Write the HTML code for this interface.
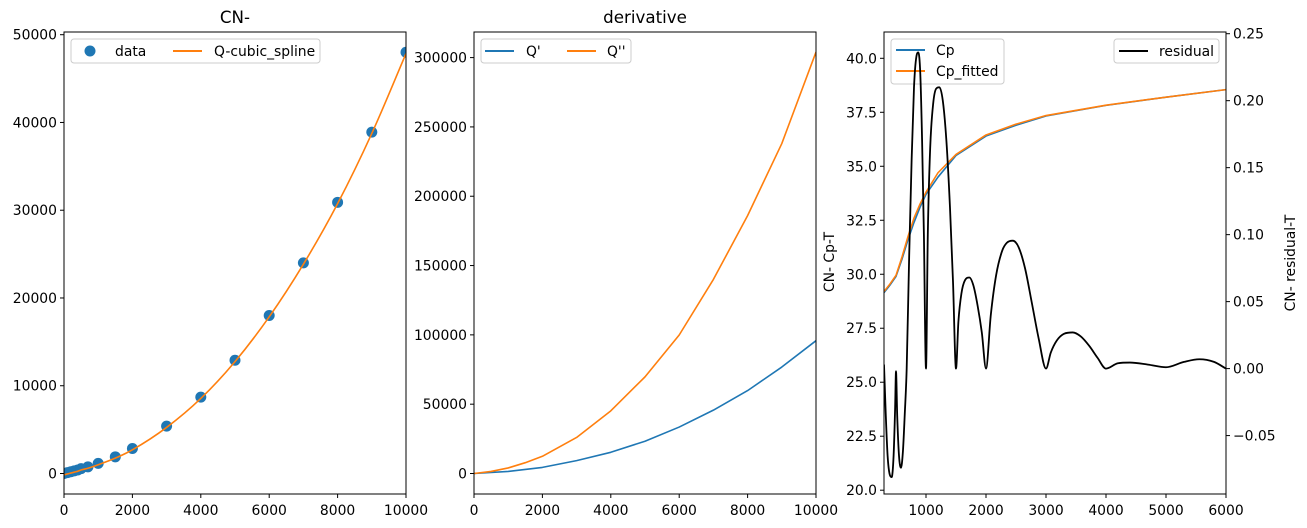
<!DOCTYPE html>
<html><head><meta charset="utf-8"><style>
body{margin:0;background:#fff;}
svg{display:block;font-family:"DejaVu Sans","Liberation Sans",sans-serif;}
</style></head><body>
<svg id="fig" width="1307" height="528" viewBox="0 0 1307 528" xmlns="http://www.w3.org/2000/svg"></svg>
<script>
// Panel 1 data
const dataT = [0,100,200,300,400,500,700,1000,1500,2000,3000,4000,5000,6000,7000,8000,9000,10000];
const dataQ = [0,100,200,300,400,550,750,1150,1900,2850,5400,8700,12900,18000,24000,30900,38900,48000];
// Panel 2 data
const derivT = [0,1000,2000,3000,4000,5000,6000,7000,8000,9000,10000];
const qPrime = [0,1500,4400,9300,15300,23300,33500,45700,59800,76800,95800];
const q2T = [0,500,1000,1500,2000,3000,4000,5000,6000,7000,8000,9000,10000];
const qDouble = [0,1500,4000,7800,12400,26000,45200,69700,99900,140000,186000,238000,304000];
// Panel 3 data
const cpT = [300,400,500,600,700,800,900,1000,1200,1500,2000,2500,3000,4000,5000,6000];
const cpVals = [29.15,29.5,29.9,30.7,31.6,32.4,33.1,33.7,34.5,35.5,36.4,36.9,37.33,37.82,38.2,38.55];
const cpFit = [29.2,29.55,29.95,30.8,31.75,32.6,33.25,33.8,34.7,35.55,36.45,36.95,37.35,37.83,38.2,38.55];
const resT = [300,330,360,395,428,460,485,500,520,550,583,615,645,678,720,760,800,840,872,905,935,965,1000,1030,1070,1120,1170,1222,1280,1340,1400,1450,1500,1540,1590,1650,1722,1790,1860,1930,2000,2080,2170,2270,2350,2444,2540,2650,2760,2880,3000,3080,3180,3300,3444,3580,3720,3860,4000,4200,4400,4700,5000,5300,5556,5800,6000];
const resV = [0.003,-0.035,-0.065,-0.079,-0.081,-0.065,-0.03,-0.002,-0.035,-0.065,-0.074,-0.062,-0.035,0.0,0.085,0.155,0.21,0.233,0.236,0.22,0.17,0.1,0,0.1,0.165,0.198,0.209,0.21,0.2,0.17,0.12,0.065,0,0.035,0.056,0.066,0.068,0.062,0.047,0.027,0,0.04,0.07,0.088,0.094,0.0955,0.091,0.075,0.05,0.022,0,0.012,0.021,0.026,0.027,0.024,0.017,0.008,0.0,0.004,0.0045,0.003,0.001,0.005,0.007,0.005,0];
const ticks1Y=[0,10000,20000,30000,40000,50000];
const ticks1X=[0,2000,4000,6000,8000,10000];
const ticks2Y=[0,50000,100000,150000,200000,250000,300000];
const ticks3X=[1000,2000,3000,4000,5000,6000];
const ticks3Y=[20,22.5,25,27.5,30,32.5,35,37.5,40];
const ticks3R=[-0.05,0,0.05,0.1,0.15,0.2,0.25];

const NS="http://www.w3.org/2000/svg";
const svg=document.getElementById('fig');
function mk(tag,attrs,parent){const e=document.createElementNS(NS,tag);for(const k in attrs)e.setAttribute(k,attrs[k]);(parent||svg).appendChild(e);return e;}
function lin(d0,d1,r0,r1){return v=>r0+(v-d0)/(d1-d0)*(r1-r0);}
const TOP=32,BOT=494,FS=13.9;
const BLUE='#1f77b4',ORANGE='#ff7f0e';

function frame(l,r,name){const e=mk('rect',{x:l,y:TOP,width:r-l,height:BOT-TOP,fill:'none',stroke:'#000','stroke-width':1});}
function xticks(ticks,sx,fmt){const g=mk('g',{});
 ticks.forEach(t=>{const x=sx(t);mk('line',{x1:x,x2:x,y1:BOT,y2:BOT+4,stroke:'#000'},g);const tx=mk('text',{x:x,y:BOT+21,'text-anchor':'middle','font-size':FS},g);tx.textContent=fmt?fmt(t):t;});}
function yticks(ticks,sy,x,fmt,right){const g=mk('g',{});
 ticks.forEach(t=>{const y=sy(t);mk('line',{x1:x,x2:right?x+4:x-4,y1:y,y2:y,stroke:'#000'},g);const tx=mk('text',{x:right?x+7:x-7,y:y+5,'text-anchor':right?'start':'end','font-size':FS},g);tx.textContent=fmt?fmt(t):t;});}
function pts(xs,ys,sx,sy){return xs.map((v,i)=>[sx(v),sy(ys[i])]);}
function linearD(p){return p.map((q,i)=>(i?'L':'M')+q[0].toFixed(2)+','+q[1].toFixed(2)).join('');}
function monoD(p){const n=p.length;const d=[],m=[];for(let i=0;i<n-1;i++)d.push((p[i+1][1]-p[i][1])/(p[i+1][0]-p[i][0]));
 m[0]=d[0];m[n-1]=d[n-2];for(let i=1;i<n-1;i++){m[i]=(d[i-1]*d[i]<=0)?0:(d[i-1]+d[i])/2;}
 // cusp handling: where value sign flips at a zero with sharp change, keep slopes
 for(let i=0;i<n-1;i++){if(d[i]===0){m[i]=m[i+1]=0;continue;}const a=m[i]/d[i],b=m[i+1]/d[i],s=a*a+b*b;if(s>9){const t=3/Math.sqrt(s);m[i]=t*a*d[i];m[i+1]=t*b*d[i];}}
 let s='M'+p[0][0].toFixed(2)+','+p[0][1].toFixed(2);
 for(let i=0;i<n-1;i++){const h=(p[i+1][0]-p[i][0])/3;s+='C'+(p[i][0]+h).toFixed(2)+','+(p[i][1]+m[i]*h).toFixed(2)+' '+(p[i+1][0]-h).toFixed(2)+','+(p[i+1][1]-m[i+1]*h).toFixed(2)+' '+p[i+1][0].toFixed(2)+','+p[i+1][1].toFixed(2);}
 return s;}
function path(xs,ys,sx,sy,color,name,w,smooth){const p=pts(xs,ys,sx,sy);const e=mk('path',{d:smooth?monoD(p):linearD(p),fill:'none',stroke:color,'stroke-width':w||1.6,'stroke-linejoin':'round'});return e;}
function clip(id,l,r){const c=mk('clipPath',{id:id});mk('rect',{x:l,y:TOP,width:r-l,height:BOT-TOP},c);}
function title(x,t,name){const e=mk('text',{x:x,y:23,'text-anchor':'middle','font-size':16.7});e.textContent=t;}
function legendBox(x,y,w,h,name){const g=mk('g',{});mk('rect',{x:x,y:y,width:w,height:h,rx:3,fill:'#fff','fill-opacity':0.8,stroke:'#ccc'},g);return g;}
function legLine(g,x,y,color){mk('line',{x1:x,x2:x+29,y1:y,y2:y,stroke:color,'stroke-width':2},g);}
function legText(g,x,y,t){const e=mk('text',{x:x,y:y+5,'font-size':FS},g);e.textContent=t;}

// ---- Panel 1
{const L=64,R=406;const sx=lin(0,10000,L,R),sy=lin(0,50000,473.5,34.7);
 clip('c1',L,R);
 const g=mk('g',{'clip-path':'url(#c1)'});
 dataT.forEach((t,i)=>{const c=mk('circle',{cx:sx(t),cy:sy(dataQ[i]),r:5.5,fill:BLUE},g);});
 const p=path(dataT,dataQ.map(v=>v-150),sx,sy,ORANGE,'cubic-spline-line',1.6,true);p.setAttribute('clip-path','url(#c1)');
 frame(L,R,'panel1-frame');xticks(ticks1X,sx);yticks(ticks1Y,sy,L);title(235,'CN-','panel1-title');
 const lg=legendBox(71,39,249,24,'panel1-legend');mk('circle',{cx:90,cy:51,r:5.5,fill:BLUE},lg);legText(lg,115,51,'data');legLine(lg,173,51,ORANGE);legText(lg,214,51,'Q-cubic_spline');}

// ---- Panel 2
{const L=474,R=816;const sx=lin(0,10000,L,R),sy=lin(0,300000,473.5,57.6);
 clip('c2',L,R);
 path(derivT,qPrime,sx,sy,BLUE,'q-prime-line').setAttribute('clip-path','url(#c2)');
 path(q2T,qDouble,sx,sy,ORANGE,'q-double-prime-line').setAttribute('clip-path','url(#c2)');
 frame(L,R,'panel2-frame');xticks(ticks1X,sx);yticks(ticks2Y,sy,L);title(645,'derivative','panel2-title');
 const lg=legendBox(481,39,150,24,'panel2-legend');legLine(lg,485,51,BLUE);legText(lg,526,51,"Q'");legLine(lg,567,51,ORANGE);legText(lg,607,51,"Q''");}

// ---- Panel 3
{const L=884,R=1226;const sx=lin(300,6000,L,R),sy=lin(20,40,490.2,58.3),sr=lin(0,0.25,368.6,33.7);
 clip('c3',L,R);
 path(cpT,cpVals,sx,sy,BLUE,'cp-line').setAttribute('clip-path','url(#c3)');
 path(cpT,cpFit,sx,sy,ORANGE,'cp-fitted-line').setAttribute('clip-path','url(#c3)');
 const lg=legendBox(891,39,113,45,'cp-legend');legLine(lg,896,50,BLUE);legText(lg,936,50,'Cp');legLine(lg,896,71,ORANGE);legText(lg,936,71,'Cp_fitted');
 path(resT,resV,sx,sr,'#000','residual-line',1.8,true).setAttribute('clip-path','url(#c3)');
 const lg2=legendBox(1114,39,105,24,'residual-legend');legLine(lg2,1119,51,'#000');legText(lg2,1159,51,'residual');
 frame(L,R,'panel3-frame');xticks(ticks3X,sx);yticks(ticks3Y,sy,L,v=>v.toFixed(1));yticks(ticks3R,sr,R,v=>(v<0?'\u2212':'')+Math.abs(v).toFixed(2),true);
 const yl=mk('text',{x:0,y:0,'text-anchor':'middle','font-size':FS,transform:'translate(834,262) rotate(-90)'});yl.textContent='CN- Cp-T';
 const yr=mk('text',{x:0,y:0,'text-anchor':'middle','font-size':FS,transform:'translate(1295,263) rotate(-90)'});yr.textContent='CN- residual-T';}
</script>
</body></html>
